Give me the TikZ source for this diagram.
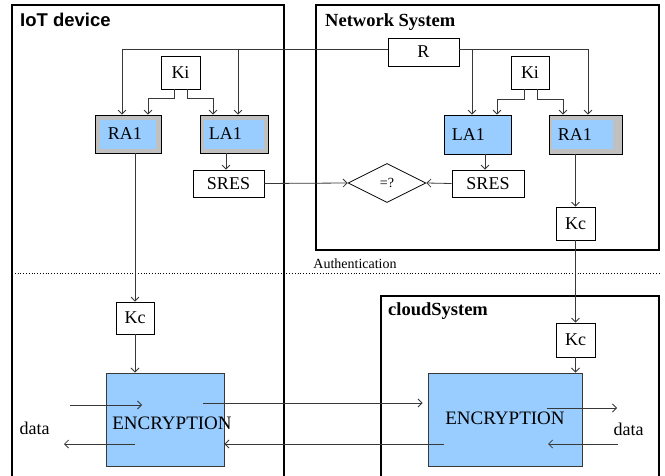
\documentclass[tikz,border=0pt]{standalone}
\usepackage{fontspec}
\setmainfont{Liberation Serif}
\newfontfamily\headsans{Liberation Sans}
\usetikzlibrary{arrows.meta,shapes.geometric}
\definecolor{cellblue}{HTML}{99CCFF}
\definecolor{framegray}{HTML}{C0C0C0}
\definecolor{wire}{HTML}{383838}

\begin{document}
\begin{tikzpicture}[x=1pt,y=-1pt,
  >={Straight Barb[length=4pt,width=8pt]},
  big/.style={font=\fontsize{18}{20}\selectfont},
  lbl/.style={big, inner sep=0pt},
  enclbl/.style={inner sep=0pt, font=\fontsize{19}{21}\selectfont},
  frame/.style={draw=black, line width=2pt},
  keybox/.style 2 args={draw=black, line width=0.8pt, fill=white, inner sep=0pt,
    minimum width=#1pt, minimum height=#2pt, big},
  algo/.style n args={6}{draw=black, line width=0.8pt, fill=framegray, inner sep=0pt,
    minimum width=#1pt, minimum height=#2pt,
    path picture={\fill[cellblue]
      ([xshift=#3pt,yshift=-#5pt]path picture bounding box.north west) rectangle
      ([xshift=-#4pt,yshift=#6pt]path picture bounding box.south east);}},
  bluebox/.style 2 args={draw=black, line width=0.8pt, fill=cellblue, inner sep=0pt,
    minimum width=#1pt, minimum height=#2pt},
  enc/.style 2 args={draw=wire, line width=0.9pt, fill=cellblue, inner sep=0pt,
    minimum width=#1pt, minimum height=#2pt},
  link/.style={draw=wire, line width=0.8pt},
  flow/.style={link, ->},
]
\useasboundingbox (0,0) rectangle (665,476);

% system frames
\draw[frame] (12,476) -- (12,5) -- (284,5) -- (284,476);
\draw[frame] (316,5) rectangle (659,250);
\draw[frame] (381,476) -- (381,296) -- (659,296) -- (659,476);

\node[anchor=base west, inner sep=0pt, font=\headsans\bfseries\fontsize{18.5}{20}\selectfont]
  (iottitle) at (20,27) {IoT device};
\node[anchor=base west, inner sep=0pt, font=\bfseries\fontsize{18.5}{20}\selectfont]
  (nettitle) at (325,27) {Network System};
\node[anchor=base west, inner sep=0pt, font=\bfseries\fontsize{18.5}{20}\selectfont]
  (cloudtitle) at (388,316) {cloudSystem};

% phase separator
\draw[dotted, line width=0.8pt] (12,273) -- (659,273);
\node[anchor=base, inner sep=0pt, font=\fontsize{14}{16}\selectfont]
  (authlbl) at (355,269) {Authentication};

% ---- IoT device side
\node[keybox={39}{33}] (kii) at (180.5,72.5) {Ki};
\node[algo={66}{38}{5}{5}{5}{4}] (ra1i) at (128,134) {};
\node[lbl, anchor=west] (ra1itxt) at ([xshift=13pt]ra1i.west) {RA1};
\node[algo={68}{38}{4}{4}{5}{4}] (la1i) at (234,134) {};
\node[lbl, anchor=west] (la1itxt) at ([xshift=9pt]la1i.west) {LA1};
\node[keybox={71}{27}] (sresi) at (228.5,183.5) {SRES};
\node[keybox={38}{32}] (kci) at (135,318) {Kc};
\node[enc={118}{93}] (enci) at (165,419.5) {};
\node[enclbl] (encitxt) at ([xshift=7pt,yshift=-3.5pt]enci.center) {ENCRYPTION};

% ---- network side
\node[keybox={71}{28}] (R) at (423.5,52) {R};
\node[keybox={38}{33}] (kin) at (530,72.5) {Ki};
\node[bluebox={67}{39}] (la1n) at (477.5,134.5) {};
\node[lbl, anchor=west] (la1ntxt) at ([xshift=8pt]la1n.west) {LA1};
\node[algo={73}{39}{3}{9}{5}{5}] (ra1n) at (585.5,134.5) {};
\node[lbl, anchor=west] (ra1ntxt) at ([xshift=9pt]ra1n.west) {RA1};
\node[keybox={72}{27}] (sresn) at (488,183.5) {SRES};
\node[diamond, draw=black, line width=0.8pt, inner sep=0pt, aspect=2,
  minimum width=78pt, minimum height=39pt, font=\fontsize{14}{16}\selectfont]
  (cmp) at (387,183) {=?};
\node[keybox={39}{33}] (kcn) at (575.5,223.5) {Kc};

% ---- cloud side
\node[keybox={39}{34}] (kcc) at (575.5,340) {Kc};
\node[enc={154}{93}] (encc) at (505,419.5) {};
\node[enclbl] (encctxt) at (505,418.5) {ENCRYPTION};

% data labels
\node[lbl] (datai) at (34.5,428) {data};
\node[lbl] (datac) at (628.5,429) {data};

% ---- R distribution bus
\coordinate (busL) at ([yshift=3pt]R.west);
\coordinate (busR) at ([yshift=3pt]R.east);
\draw[flow] (busL) -| ([xshift=-6pt]ra1i.north);
\draw[flow] ([xshift=4pt]la1i.north |- busL) -- ([xshift=4pt]la1i.north);
\draw[flow] (busR) -| ([xshift=2.5pt]ra1n.north);
\draw[flow] ([xshift=-5.5pt]la1n.north |- busR) -- ([xshift=-5.5pt]la1n.north);

% ---- Ki distribution
\draw[flow] ([xshift=-6.5pt]kii.south) -- ++(0,9) -| ([xshift=20pt]ra1i.north);
\draw[flow] ([xshift=6.5pt]kii.south) -- ++(0,9) -| ([xshift=-21pt]la1i.north);
\draw[flow] ([xshift=-6pt]kin.south) -- ++(0,10) -| ([xshift=19.5pt]la1n.north);
\draw[flow] ([xshift=7pt]kin.south) -- ++(0,10) -| ([xshift=-22.5pt]ra1n.north);

% ---- responses and comparison
\draw[flow] ([xshift=-8pt]la1i.south) -- ([xshift=-2.5pt]sresi.north);
\draw[flow] ([xshift=7.5pt]la1n.south) -- ([xshift=-3pt]sresn.north);
\draw[flow] (sresi.east) -- (cmp.west);
\draw[flow] (sresn.west) -- (cmp.east);

% ---- cipher keys
\draw[flow] ([xshift=-10pt]ra1n.south) -- (kcn.north);
\draw[flow] (kcn.south) -- (kcc.north);
\draw[flow] (kcc.south) -- (kcc.south |- encc.north);
\draw[flow] ([xshift=7pt]ra1i.south) -- (kci.north);
\draw[flow] (kci.south) -- (kci.south |- enci.north);

% ---- data paths
\coordinate (iinS) at (70,405);   \coordinate (iinE) at (142,405);
\coordinate (ioutS) at (135,444); \coordinate (ioutE) at (64,444);
\coordinate (upS) at (203,403);
\coordinate (downS) at (444,444);
\coordinate (cinS) at (618,444);  \coordinate (cinE) at (548,444);
\coordinate (coutS) at (547,408); \coordinate (coutE) at (617,408);
\draw[flow] (iinS) -- (iinE);
\draw[flow] (ioutS) -- (ioutE);
\draw[flow] (upS) -- ([xshift=-5pt]encc.west |- upS);
\draw[flow] (downS) -- (enci.east |- downS);
\draw[flow] (coutS) -- (coutE);
\draw[flow] (cinS) -- (cinE);
\end{tikzpicture}
\end{document}
